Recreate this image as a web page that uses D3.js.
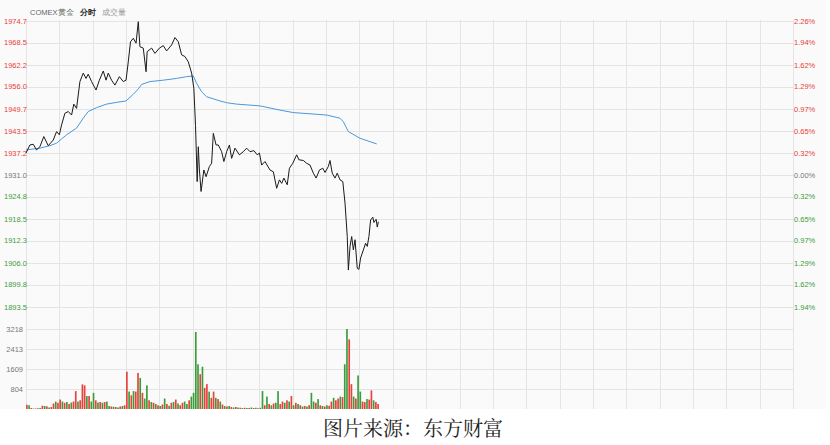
<!DOCTYPE html>
<html>
<head>
<meta charset="utf-8">
<script src="https://cdn.jsdelivr.net/npm/d3@7"></script>
<style>
  body { margin: 0; background: #fff; }
  svg text { font-family: "Liberation Sans", Arial, sans-serif; }
</style>
</head>
<body>
<div id="chart"></div>
<script>
// DATA

// price axis labels (left) and change labels (right)
var priceTicks = ["1974.7","1968.5","1962.2","1956.0","1949.7","1943.5","1937.2","1931.0","1924.8","1918.5","1912.3","1906.0","1899.8","1893.5"];
var pctTicks = ["2.26%","1.94%","1.62%","1.29%","0.97%","0.65%","0.32%","0.00%","0.32%","0.65%","0.97%","1.29%","1.62%","1.94%"];
var volTicks = [804, 1609, 2413, 3218];
var preClose = 1931.0;

// minute of session -> price (black line)
var priceMin = [0,7,13,19,25,32,40,49,55,60,64,70,76,82,86,91,97,103,108,112,118,126,132,139,144,148,154,160,168,175,180,184,188,193,198,202,205,211,216,218,226,232,240,247,253,262,268,274,280,286,292,298,302,305,308,310,312,315,320,324,330,334,337,342,346,352,356,361,366,370,376,384,391,397,403,410,416,420,424,430,439,445,451,456,460,464,470,474,480,487,491,499,505,511,517,522,528,534,538,544,547,551,556,560,565,570,574,578,580,583,586,589,592,596,599,602,607,611,614,617,620,624,626,630,632,634];
var priceVal = [1937.2,1939.5,1939.7,1938.1,1939.0,1941.9,1939.3,1940.9,1943.3,1942.4,1945.2,1948.5,1949.0,1948.0,1951.1,1949.9,1957.5,1959.9,1958.4,1959.6,1957.5,1955.1,1957.9,1960.5,1957.9,1959.9,1957.9,1956.5,1958.9,1957.5,1957.9,1963.1,1968.8,1969.8,1968.4,1974.5,1967.4,1967.0,1960.3,1966.0,1967.0,1965.5,1967.0,1967.7,1966.2,1967.9,1970.0,1968.8,1965.1,1964.6,1963.1,1959.9,1955.6,1945.0,1929.1,1939.0,1932.4,1926.3,1932.4,1930.5,1933.4,1934.3,1942.8,1939.5,1939.5,1937.6,1934.8,1937.6,1939.5,1935.7,1938.6,1936.7,1937.6,1938.6,1937.6,1937.9,1936.7,1937.2,1933.8,1934.8,1932.4,1931.9,1927.2,1929.6,1928.6,1930.1,1928.2,1932.9,1934.3,1936.7,1935.3,1935.1,1934.3,1933.8,1931.5,1930.1,1932.4,1932.9,1931.7,1933.4,1935.1,1931.5,1930.1,1931.5,1929.6,1929.1,1923.0,1913.5,1904.0,1910.7,1913.5,1909.7,1912.6,1904.5,1904.2,1907.4,1909.7,1911.6,1910.7,1913.5,1918.2,1919.0,1917.5,1918.4,1916.2,1917.7];

// average price (blue line)
var avgMin = [0,25,43,55,73,91,103,112,127,145,163,180,193,202,208,223,247,271,289,301,307,316,325,349,361,379,421,457,481,541,565,571,580,601,631];
var avgVal = [1938.1,1938.6,1939.3,1940.0,1942.4,1944.3,1947.1,1949.0,1950.1,1951.1,1951.6,1952.0,1953.9,1955.4,1956.7,1957.5,1957.9,1958.4,1958.9,1959.1,1957.0,1954.6,1953.2,1952.0,1951.5,1951.1,1950.6,1949.4,1948.7,1948.0,1947.1,1946.1,1943.3,1941.4,1939.8];

// volume, one bar for every 4 minutes; r = up, g = down
var volStep = 4;
var volume = [170,150,40,20,20,30,40,130,120,110,
  60,80,220,300,250,380,300,250,280,200,
  260,300,720,300,350,990,950,520,520,300,
  650,350,260,280,250,280,300,120,100,90,
  80,60,100,120,150,1500,700,550,720,700,
  1450,1250,650,420,950,350,280,250,200,150,
  120,180,420,200,130,250,280,380,220,150,
  250,300,200,350,500,650,3100,1800,1400,1700,
  850,1000,700,450,700,450,400,300,180,120,
  100,120,80,60,80,60,50,40,50,40,
  40,60,40,50,30,50,720,150,500,200,
  150,220,250,720,200,300,250,350,300,520,
  150,250,200,150,100,120,100,150,650,300,
  250,400,150,120,100,150,130,300,450,350,
  420,500,480,1800,3218,2800,1000,500,420,1350,
  700,300,280,400,380,750,350,280,200];
var volDir = ("rgrgrrgrgr" + "grrgrrgrgr" + "grrgrrrgrg" + "grgrgrggrg" + "rgrgrrgrgr" +
  "rgrggrgrgr" + "grgrgrgrgr" + "rggrggggrg" + "rrgrrgrgrg" + "rgrgrgrgrg" +
  "rgrgrggrgr" + "grggrrgrgr" + "grgrgrgrgg" + "rgrgrgrrgr" + "rgrggrrgrg" +
  "grrgrrgrr").split("");

// SETUP
var W = 830, H = 445;
var red = "#e8403b", green = "#3a9d3a", grey = "#777";

var svg = d3.select("#chart").append("svg")
    .attr("width", W)
    .attr("height", H);

// chart panel background
svg.append("rect")
    .attr("x", 0).attr("y", 0)
    .attr("width", 826).attr("height", 409)
    .attr("fill", "#fafafa");

// scales
var x = d3.scaleLinear().domain([0, 1380]).range([26, 793]);
var y = d3.scaleLinear().domain([1893.5, 1974.7]).range([307, 21]);
var yv = d3.scaleLinear().domain([0, 3218]).range([409, 329]);

// GRID
var grid = svg.append("g").attr("stroke", "#e4e4e4").attr("stroke-width", 1);

grid.selectAll("line.v")
    .data(d3.range(0, 1381, 60))
    .enter().append("line")
    .attr("class", "v")
    .attr("x1", function(d) { return Math.round(x(d)) + 0.5; })
    .attr("x2", function(d) { return Math.round(x(d)) + 0.5; })
    .attr("y1", 20).attr("y2", 409);

grid.selectAll("line.h")
    .data(priceTicks)
    .enter().append("line")
    .attr("class", "h")
    .attr("x1", 26).attr("x2", 793)
    .attr("y1", function(d) { return Math.round(y(+d)) + 0.5; })
    .attr("y2", function(d) { return Math.round(y(+d)) + 0.5; });

grid.selectAll("line.hv")
    .data(volTicks)
    .enter().append("line")
    .attr("class", "hv")
    .attr("x1", 26).attr("x2", 793)
    .attr("y1", function(d) { return Math.round(yv(d)) + 0.5; })
    .attr("y2", function(d) { return Math.round(yv(d)) + 0.5; });

// AXIS LABELS
function tickColor(v) {
  if (Math.abs(v - preClose) < 0.05) return grey;
  return v > preClose ? red : green;
}

svg.append("g").selectAll("text")
    .data(priceTicks)
    .enter().append("text")
    .attr("x", 4)
    .attr("y", function(d) { return y(+d); })
    .attr("dy", "0.35em")
    .attr("font-size", 7.5)
    .attr("fill", function(d) { return tickColor(+d); })
    .text(function(d) { return d; });

svg.append("g").selectAll("text")
    .data(pctTicks)
    .enter().append("text")
    .attr("x", 794)
    .attr("y", function(d, i) { return y(+priceTicks[i]); })
    .attr("dy", "0.35em")
    .attr("font-size", 7.5)
    .attr("fill", function(d, i) { return tickColor(+priceTicks[i]); })
    .text(function(d) { return d; });

svg.append("g").selectAll("text")
    .data(volTicks)
    .enter().append("text")
    .attr("x", 23)
    .attr("y", function(d) { return yv(d); })
    .attr("dy", "0.35em")
    .attr("text-anchor", "end")
    .attr("font-size", 7.5)
    .attr("fill", grey)
    .text(function(d) { return d; });

// HEADER
var head = svg.append("text").attr("x", 30).attr("y", 15).attr("font-size", 7.5);
head.append("tspan").attr("fill", "#666").text("COMEX黄金");
head.append("tspan").attr("dx", 6).attr("fill", "#222").attr("font-weight", "bold").text("分时");
head.append("tspan").attr("dx", 6).attr("fill", "#999").text("成交量");

// VOLUME BARS
var bw = x(volStep) - x(0);
svg.append("g").selectAll("rect")
    .data(volume)
    .enter().append("rect")
    .attr("x", function(d, i) { return x(i * volStep); })
    .attr("width", bw * 0.75)
    .attr("y", function(d) { return yv(d); })
    .attr("height", function(d) { return yv(0) - yv(d); })
    .attr("fill", function(d, i) { return volDir[i] === "r" ? red : green; });

// AVERAGE LINE
var avgLine = d3.line()
    .x(function(d) { return x(d[0]); })
    .y(function(d) { return y(d[1]); });

svg.append("path")
    .datum(d3.zip(avgMin, avgVal))
    .attr("d", avgLine)
    .attr("fill", "none")
    .attr("stroke", "#4a98dc")
    .attr("stroke-width", 1);

// PRICE LINE
svg.append("path")
    .datum(d3.zip(priceMin, priceVal))
    .attr("d", avgLine)
    .attr("fill", "none")
    .attr("stroke", "#1a1a1a")
    .attr("stroke-width", 1);

// CAPTION
svg.append("text")
    .attr("x", 413)
    .attr("y", 436)
    .attr("text-anchor", "middle")
    .attr("font-size", 20)
    .attr("fill", "#222")
    .style("font-family", "'Noto Serif CJK SC', 'Noto Sans CJK SC', serif")
    .text("图片来源：东方财富");
</script>
</body>
</html>
